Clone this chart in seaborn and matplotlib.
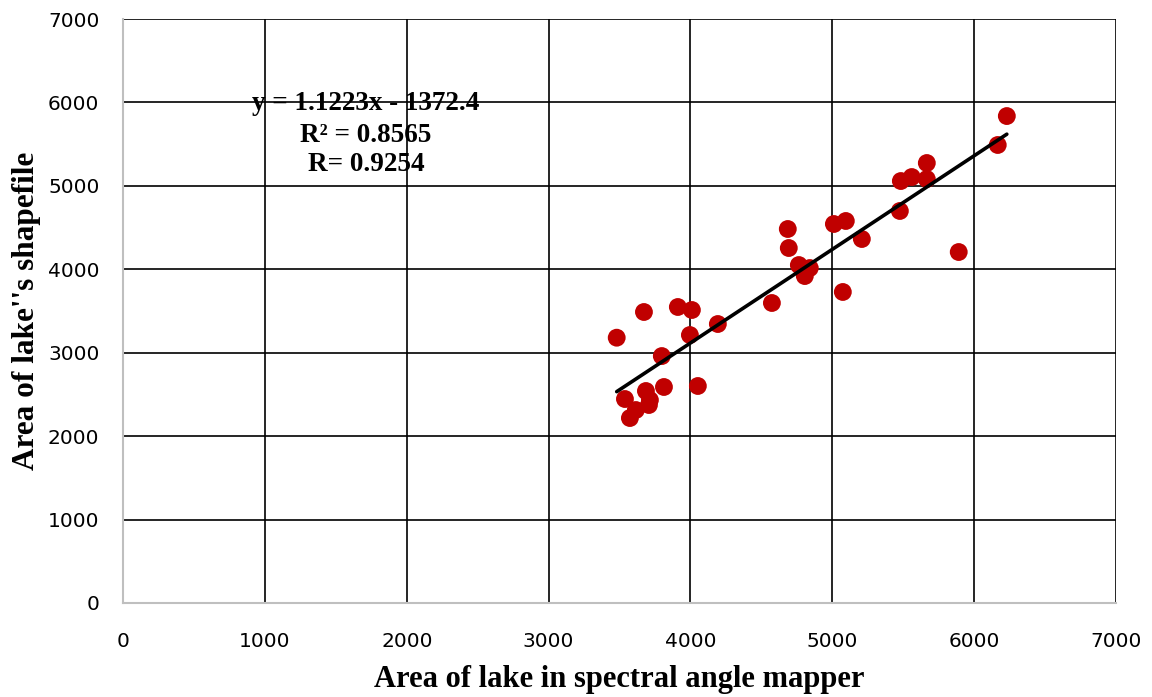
import matplotlib
matplotlib.use("Agg")
import matplotlib.pyplot as plt
import seaborn as sns
import pandas as pd
import numpy as np

# Data
sam_area = [3480, 3538, 3615, 3573, 3672, 3686, 3714, 3707, 3798, 3813,
            3911, 4010, 3996, 4052, 4193, 4574, 4686, 4693, 4764, 4806,
            4841, 5011, 5095, 5074, 5208, 5476, 5483, 5560, 5666, 5666,
            5891, 6166, 6230]
shp_area = [3180, 2445, 2313, 2217, 3488, 2541, 2433, 2373, 2960, 2589,
            3548, 3512, 3212, 2601, 3344, 3596, 4483, 4255, 4051, 3919,
            4015, 4543, 4579, 3728, 4363, 4699, 5058, 5106, 5274, 5082,
            4207, 5490, 5837]
slope = 1.1223
intercept = -1372.4
eq_lines = ["y = 1.1223x - 1372.4", "R\u00b2 = 0.8565", "R= 0.9254"]
ticks = [0, 1000, 2000, 3000, 4000, 5000, 6000, 7000]

df = pd.DataFrame({"x": sam_area, "y": shp_area})
xs = [min(sam_area), max(sam_area)]
trend = pd.DataFrame({"x": xs, "y": [slope * v + intercept for v in xs]})

sns.set_style("white")
plt.rcParams["text.color"] = "black"
plt.rcParams["axes.labelcolor"] = "black"
plt.rcParams["xtick.color"] = "black"
plt.rcParams["ytick.color"] = "black"

fig = plt.figure(figsize=(11.52, 6.97), dpi=100)
ax = fig.add_axes([0.1068, 0.1349, 0.8620, 0.8378])

sns.scatterplot(data=df, x="x", y="y", ax=ax, color="#c00000", s=165,
                edgecolor="none", zorder=3)
sns.lineplot(data=trend, x="x", y="y", ax=ax, color="black", linewidth=2.6,
             zorder=4)

ax.set_xlim(0, 7000)
ax.set_ylim(0, 7000)
ax.set_xticks(ticks)
ax.set_yticks(ticks)
ax.set_xticklabels([str(t) for t in ticks], fontsize=14.5,
                   family="DejaVu Sans", color="black")
ax.set_yticklabels([str(t) for t in ticks], fontsize=14.5,
                   family="DejaVu Sans", color="black")
ax.tick_params(axis="x", length=0, pad=21)
ax.tick_params(axis="y", length=0, pad=17)
ax.grid(True, color="black", linewidth=1.2)
ax.set_axisbelow(True)
for side in ["top", "right"]:
    ax.spines[side].set_visible(False)
for side in ["left", "bottom"]:
    ax.spines[side].set_color("#bfbfbf")
    ax.spines[side].set_linewidth(1.5)

ax.set_xlabel("Area of lake in spectral angle mapper", fontsize=22,
              fontweight="bold", family="Liberation Serif", labelpad=10,
              color="black")
ax.set_ylabel("Area of lake''s shapefile", fontsize=22.5,
              fontweight="bold", family="Liberation Serif", labelpad=5,
              color="black")

for txt, yy in zip(eq_lines, [5990, 5600, 5260]):
    ax.text(1712, yy, txt, ha="center", va="center", fontsize=19.5,
            fontweight="bold", family="Liberation Serif", color="black",
            zorder=5)

fig.savefig("out.png", dpi=100)
